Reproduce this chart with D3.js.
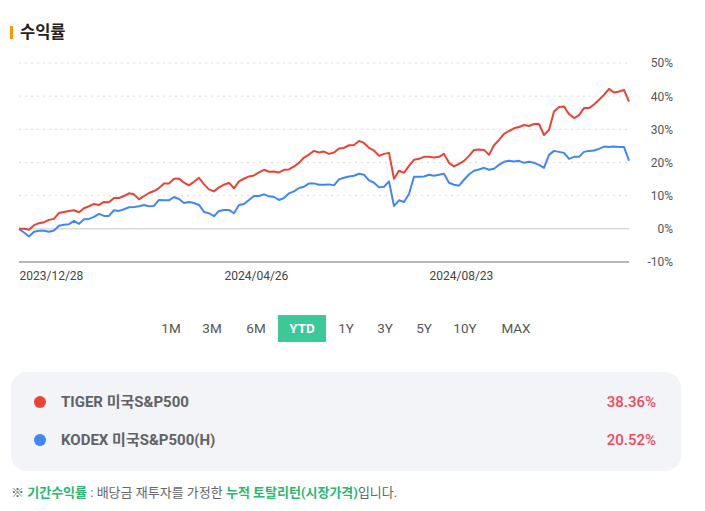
<!DOCTYPE html>
<html>
<head>
<meta charset="utf-8">
<script src="https://cdn.jsdelivr.net/npm/d3@7"></script>
<style>
  body { margin: 0; background: #fff; font-family: Roboto, "Noto Sans CJK KR", sans-serif; }
  svg text { font-family: Roboto, "Noto Sans CJK KR", sans-serif; }
</style>
</head>
<body>
<div id="chart"></div>
<script>
// cumulative returns (%) sampled along the trading days
const tigerValues = [0, 0, -0.3, 1.1, 1.7, 2.0, 2.7, 3.0, 4.8, 5.1, 5.4, 5.6, 5.0, 6.2, 6.8, 7.5, 7.2, 8.1, 8.0, 9.3,
  9.3, 9.9, 10.7, 10.4, 8.9, 9.9, 10.8, 11.4, 12.3, 13.7, 13.7, 15.1, 15.2, 13.9, 13.1, 14.2, 15.4, 13.4, 11.9, 11.3,
  12.5, 13.3, 13.9, 12.2, 14.3, 15.1, 15.8, 16.1, 17.0, 17.8, 17.2, 17.3, 17.0, 17.8, 17.9, 18.8, 19.9, 21.5, 22.4, 23.5,
  23.0, 23.3, 22.6, 23.0, 24.2, 24.4, 25.2, 25.3, 26.5, 25.9, 24.4, 23.6, 22.0, 22.6, 22.9, 15.1, 17.5, 16.9, 19.0, 20.8,
  21.1, 21.7, 21.7, 21.5, 21.7, 22.6, 19.9, 18.8, 19.6, 20.5, 22.0, 23.8, 23.9, 23.8, 22.3, 25.2, 26.8, 28.6, 29.5, 30.3,
  30.7, 31.3, 31.0, 31.6, 31.6, 28.3, 29.8, 35.4, 36.7, 36.9, 34.6, 33.4, 34.3, 36.4, 36.4, 37.5, 38.9, 40.4, 42.2, 41.1,
  41.4, 41.9, 38.36];
const kodexValues = [0, -1.1, -2.3, -0.9, -0.6, -0.6, -0.9, -0.5, 0.9, 1.2, 1.4, 2.4, 1.5, 2.9, 3.0, 3.6, 4.5, 3.9, 3.9, 5.6,
  5.4, 5.9, 6.5, 6.6, 6.8, 7.2, 6.8, 6.9, 8.7, 8.6, 8.6, 9.6, 9.0, 7.8, 8.1, 7.8, 7.2, 5.1, 4.7, 3.8,
  5.4, 5.7, 5.7, 4.7, 7.2, 7.5, 8.7, 9.9, 9.9, 10.4, 9.8, 9.6, 8.7, 9.3, 10.7, 11.3, 12.3, 12.7, 13.7, 13.7,
  13.3, 13.3, 13.4, 13.1, 14.9, 15.4, 15.8, 16.0, 16.6, 16.3, 14.6, 13.9, 12.5, 12.7, 14.3, 6.9, 8.6, 8.1, 10.5, 15.7,
  15.7, 15.8, 16.3, 16.0, 16.3, 16.6, 13.9, 13.3, 13.0, 14.8, 16.4, 17.5, 17.9, 18.4, 17.8, 18.1, 19.3, 20.2, 20.5, 20.3,
  20.5, 19.9, 20.2, 19.9, 19.3, 18.4, 22.3, 23.5, 23.2, 22.9, 21.1, 21.7, 21.7, 23.2, 23.5, 23.6, 24.1, 24.8, 24.7, 24.8,
  24.7, 24.7, 20.52];

const seriesNames = ["TIGER 미국S&P500", "KODEX 미국S&P500(H)"];
const seriesColors = ["#ea4335", "#4285f4"];
const periodReturns = ["38.36%", "20.52%"];

const dateTickIndex = [0, 41, 82];
const dateTickLabels = ["2023/12/28", "2024/04/26", "2024/08/23"];
const yTicks = [-10, 0, 10, 20, 30, 40, 50];

const periods = ["1M", "3M", "6M", "YTD", "1Y", "3Y", "5Y", "10Y", "MAX"];
const periodCenters = [171, 212, 256, 302, 346, 385, 424, 465, 516];
const activePeriod = "YTD";

const width = 705, height = 511;

const svg = d3.select("#chart")
  .append("svg")
    .attr("width", width)
    .attr("height", height);

// title
svg.append("rect")
  .attr("x", 10).attr("y", 26)
  .attr("width", 3).attr("height", 13)
  .attr("fill", "#ff9800");
svg.append("text")
  .attr("x", 20).attr("y", 38)
  .attr("font-size", 16.5)
  .attr("font-weight", 700)
  .attr("fill", "#222")
  .text("수익률");

const xScale = d3.scaleLinear()
  .domain([0, tigerValues.length - 1])
  .range([19, 629]);
const yScale = d3.scaleLinear()
  .domain([-10, 50])
  .range([262, 63]);

const grid = svg.append("g");
grid.selectAll("line")
  .data(yTicks)
  .join("line")
    .attr("x1", 19)
    .attr("x2", 629)
    .attr("y1", d => yScale(d))
    .attr("y2", d => yScale(d))
    .attr("stroke", d => d === -10 ? "#9aa0a6" : (d === 0 ? "#d9d9d9" : "#dcdcdc"))
    .attr("stroke-width", d => d <= 0 ? 1.5 : 1)
    .attr("stroke-dasharray", d => d > 0 ? "2,4" : null);

const yAxis = d3.axisRight(yScale)
  .tickValues(yTicks)
  .tickSize(0)
  .tickFormat(d => d + "%");
svg.append("g")
  .attr("transform", "translate(673,0)")
  .call(yAxis)
  .call(g => g.select(".domain").remove())
  .call(g => g.selectAll("text")
    .attr("text-anchor", "end")
    .attr("x", 0)
    .attr("font-size", 12)
    .attr("fill", "#555"));

const xAxis = d3.axisBottom(xScale)
  .tickValues(dateTickIndex)
  .tickSize(0)
  .tickFormat((d, i) => dateTickLabels[i]);
svg.append("g")
  .attr("transform", "translate(0,262)")
  .call(xAxis)
  .call(g => g.select(".domain").remove())
  .call(g => g.selectAll("text")
    .attr("text-anchor", "start")
    .attr("dy", "1.25em")
    .attr("font-size", 12)
    .attr("fill", "#444"));

const line = d3.line()
  .x((d, i) => xScale(i))
  .y(d => yScale(d));

svg.append("g")
  .selectAll("path")
  .data([kodexValues, tigerValues])
  .join("path")
    .attr("d", line)
    .attr("fill", "none")
    .attr("stroke", (d, i) => i === 0 ? seriesColors[1] : seriesColors[0])
    .attr("stroke-width", 2)
    .attr("stroke-linejoin", "round");

// period buttons
const buttons = svg.append("g")
  .selectAll("g")
  .data(periods)
  .join("g")
    .attr("transform", (d, i) => `translate(${periodCenters[i]},328)`);
buttons.filter(d => d === activePeriod)
  .append("rect")
    .attr("x", -24).attr("y", -13)
    .attr("width", 48).attr("height", 27)
    .attr("fill", "#3cc897");
buttons.append("text")
  .attr("text-anchor", "middle")
  .attr("dy", "0.36em")
  .attr("font-size", 13.5)
  .attr("font-weight", d => d === activePeriod ? 700 : 400)
  .attr("fill", d => d === activePeriod ? "#fff" : "#555")
  .text(d => d);

// legend box
svg.append("rect")
  .attr("x", 11).attr("y", 372)
  .attr("width", 670).attr("height", 99)
  .attr("rx", 16)
  .attr("fill", "#f2f4f7");

const legend = svg.append("g")
  .selectAll("g")
  .data(seriesNames)
  .join("g")
    .attr("transform", (d, i) => `translate(0,${402 + i * 38})`);
legend.append("circle")
  .attr("cx", 40).attr("cy", 0).attr("r", 6)
  .attr("fill", (d, i) => seriesColors[i]);
legend.append("text")
  .attr("x", 61).attr("dy", "0.36em")
  .attr("font-size", 15).attr("font-weight", 700)
  .attr("fill", "#5f6368")
  .text(d => d);
legend.append("text")
  .attr("x", 656).attr("dy", "0.36em")
  .attr("text-anchor", "end")
  .attr("font-size", 15).attr("font-weight", 500)
  .attr("fill", "#f5475c")
  .text((d, i) => periodReturns[i]);

// footnote
const note = svg.append("text")
  .attr("x", 11).attr("y", 497)
  .attr("font-size", 13)
  .attr("fill", "#666");
note.append("tspan").text("※ ");
note.append("tspan").attr("fill", "#2bb673").attr("font-weight", 700).text("기간수익률");
note.append("tspan").text(" : 배당금 재투자를 가정한 ");
note.append("tspan").attr("fill", "#2bb673").attr("font-weight", 700).text("누적 토탈리턴(시장가격)");
note.append("tspan").text("입니다.");
</script>
</body>
</html>
